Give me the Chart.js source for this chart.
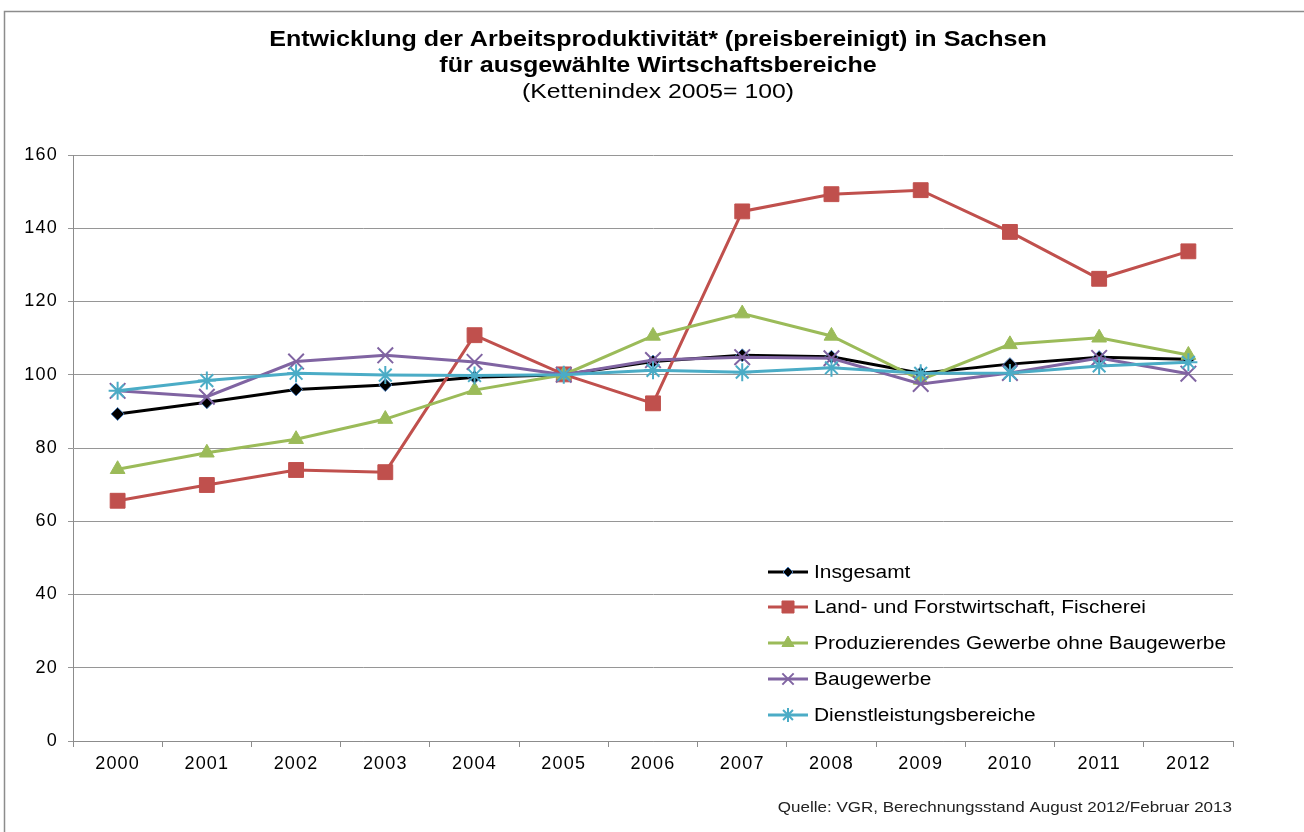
<!DOCTYPE html>
<html>
<head>
<meta charset="utf-8">
<script src="https://cdn.jsdelivr.net/npm/chart.js@4/dist/chart.umd.min.js"></script>
<style>
html,body{margin:0;padding:0;background:#fff;}
#wrap{position:relative;width:1304px;height:832px;}
canvas{display:block;}
</style>
</head>
<body>
<div id="wrap"><canvas id="c" width="1304" height="832"></canvas></div>
<script>
const years = ["2000","2001","2002","2003","2004","2005","2006","2007","2008","2009","2010","2011","2012"];
const yTicks = [0,20,40,60,80,100,120,140,160];
const titleLines = ["Entwicklung der Arbeitsproduktivität* (preisbereinigt) in Sachsen","für ausgewählte Wirtschaftsbereiche"];
const subtitleText = "(Kettenindex 2005= 100)";
const sourceText = "Quelle: VGR, Berechnungsstand August 2012/Februar 2013";
const seriesNames = ["Insgesamt","Land- und Forstwirtschaft, Fischerei","Produzierendes Gewerbe ohne Baugewerbe","Baugewerbe","Dienstleistungsbereiche"];
const insgesamt = [89.3,92.5,96.0,97.2,99.3,100,103.6,105.3,104.9,100.4,102.9,104.8,104.2];
const landForst = [65.6,69.9,74.0,73.4,110.8,100.1,92.2,144.6,149.3,150.4,139.0,126.2,133.7];
const produzierend = [74.2,78.7,82.4,87.9,95.8,100,110.6,116.7,110.6,98.6,108.3,110.1,105.4];
const baugewerbe = [95.6,94.0,103.6,105.3,103.5,100,104.0,104.8,104.5,97.5,100.5,104.6,100.3];
const dienstleistung = [95.6,98.4,100.4,99.9,99.8,100,101.2,100.7,101.9,100.4,100.5,102.4,103.4];

const F = "'Liberation Sans', Arial, sans-serif";
const colors = ["#000000","#C0504D","#9BBB59","#8064A2","#4BACC6"];

const chartLeft = 73, chartRight = 1233, chartTop = 155, chartBottom = 741;

function stretchText(ctx, text, x, y, sx, align){
  ctx.save();
  ctx.translate(x, y);
  ctx.scale(sx, 1);
  ctx.textAlign = align;
  ctx.fillText(text, 0, 0);
  ctx.restore();
}

const decor = {
  id:'decor',
  beforeDraw(chart){
    const ctx = chart.ctx;
    ctx.save();
    ctx.fillStyle='#fff';
    ctx.fillRect(0,0,chart.width,chart.height);
    ctx.strokeStyle='#8c8c8c';
    ctx.lineWidth=1.5;
    ctx.beginPath();
    ctx.moveTo(4.5,840); ctx.lineTo(4.5,11.5); ctx.lineTo(1310,11.5);
    ctx.stroke();
    ctx.restore();
    ctx.letterSpacing = '1.2px';
  },
  beforeDatasetsDraw(chart){
    chart.ctx.letterSpacing = '0px';
  },
  afterDraw(chart){
    const ctx = chart.ctx;
    ctx.save();
    ctx.letterSpacing = '0px';
    ctx.fillStyle='#000';
    ctx.textBaseline='middle';
    ctx.font = "bold 22px "+F;
    stretchText(ctx,titleLines[0],658,40,1.14,'center');
    stretchText(ctx,titleLines[1],658,66,1.14,'center');
    ctx.font = "21px "+F;
    stretchText(ctx,subtitleText,658,92,1.18,'center');
    ctx.font = "15px "+F;
    ctx.fillStyle='#222';
    stretchText(ctx,sourceText,1232,808,1.135,'right');
    // legend
    const x0=768, x1=808, tx=814;
    const ys=[572,607,643,679,715];
    chart.data.datasets.forEach((ds,i)=>{
      const y=ys[i];
      ctx.strokeStyle=ds.borderColor;
      ctx.lineWidth=3;
      ctx.beginPath(); ctx.moveTo(x0,y); ctx.lineTo(x1,y); ctx.stroke();
      const opts={pointStyle:ds.pointStyle,radius:ds.legendRadius,rotation:0,borderWidth:ds.pointBorderWidth};
      ctx.fillStyle=ds.pointBackgroundColor;
      ctx.strokeStyle=ds.pointBorderColor;
      ctx.lineWidth=ds.pointBorderWidth;
      Chart.helpers.drawPoint(ctx,opts,(x0+x1)/2,y);
      ctx.fillStyle='#000';
      ctx.font="18px "+F;
      ctx.textBaseline='middle';
      stretchText(ctx,seriesNames[i],tx,y+1,1.16,'left');
    });
    ctx.restore();
  }
};

const mk = (i,data,style,r,lr,bg,bc,bw)=>({
  label: seriesNames[i], data, borderColor: colors[i], borderWidth:3,
  pointStyle: style, pointRadius:r, pointHoverRadius:r, legendRadius: lr,
  pointBackgroundColor:bg, pointBorderColor:bc, pointBorderWidth:bw,
  tension:0, fill:false, order: 4-i
});

new Chart(document.getElementById('c'),{
  type:'line',
  data:{
    labels: years,
    datasets:[
      mk(0,insgesamt,'rectRot',6.5,5,'#000000','#4F81BD',1),
      mk(1,landForst,'rect',10.5,8.5,colors[1],colors[1],1),
      mk(2,produzierend,'triangle',8.5,7,colors[2],colors[2],1),
      mk(3,baugewerbe,'crossRot',11,8,colors[3],colors[3],2),
      mk(4,dienstleistung,'star',9,7,colors[4],colors[4],2)
    ]
  },
  options:{
    responsive:false, animation:false, devicePixelRatio:1,
    layout:{padding:{left:0,right:1304-chartRight,top:chartTop,bottom:0}},
    plugins:{legend:{display:false},title:{display:false},tooltip:{enabled:false}},
    scales:{
      x:{
        offset:true,
        grid:{offset:true,drawOnChartArea:false,drawTicks:true,tickLength:6,color:'#8c8c8c'},
        border:{color:'#8c8c8c',width:1},
        ticks:{color:'#000',font:{family:F,size:18},padding:6,maxRotation:0},
        afterFit(s){ s.height = 832-chartBottom; }
      },
      y:{
        min:0,max:160,
        afterBuildTicks(s){ s.ticks = yTicks.map(v=>({value:v})); },
        grid:{color:'#969696',tickLength:5,drawTicks:true},
        border:{color:'#8c8c8c',width:1},
        ticks:{color:'#000',font:{family:F,size:18},padding:10},
        afterFit(s){ s.width = chartLeft; }
      }
    }
  },
  plugins:[decor]
});
</script>
</body>
</html>
